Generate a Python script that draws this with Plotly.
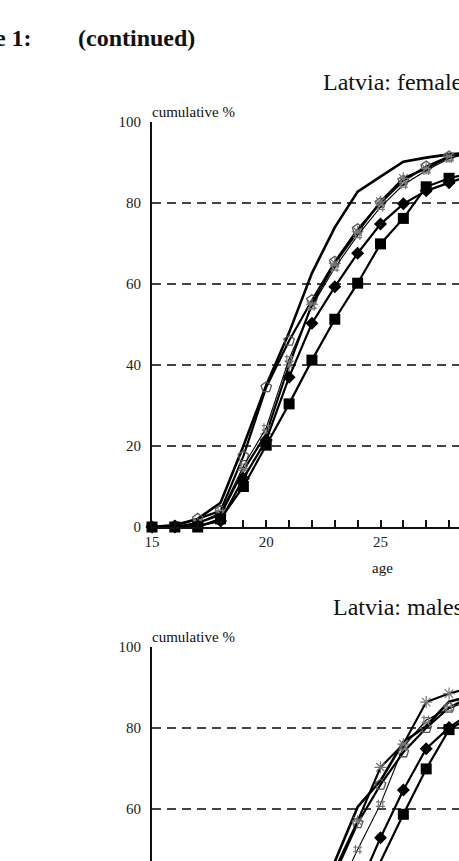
import plotly.graph_objects as go

W, H = 459, 861

ages = list(range(15, 30))

# Latvia: females (cumulative %)
fem_plain    = [0, 0.5, 2, 6, 20, 35, 48, 62.7, 74, 82.8, 86.5, 90.2, 91.2, 92, 92.5]
fem_open     = [0, 0.3, 2, 4, 17.5, 34.5, 46, 56, 65.5, 73.5, 80, 85.5, 89, 91.5, 93]
fem_asterisk = [0, 0, 1, 3, 14, 23, 40, 55, 65.1, 72.9, 80.3, 86.1, 88.5, 91.4, 92.5]
fem_hash     = [0, 0, 1, 3.5, 15, 24.5, 41.5, 54.5, 64, 72, 79, 84.5, 88, 91, 92.5]
fem_diamond  = [0, 0, 0.3, 1.5, 12, 21.5, 37, 50.3, 59.3, 67.6, 74.8, 79.8, 83, 85, 87]
fem_square   = [0, 0, 0, 2, 10, 20.2, 30.4, 41.2, 51.3, 60.2, 69.9, 76.2, 84, 86.1, 87.5]

# Latvia: males (cumulative %)
mal_plain    = [0, 0, 0.5, 1.5, 4, 9, 18, 31, 47, 60.5, 67, 76.5, 80.5, 86.5, 88]
mal_open     = [0, 0, 0.5, 1.5, 4, 8, 17, 30, 44, 56.5, 66, 74, 80, 85, 88]
mal_asterisk = [0, 0, 0.5, 1.5, 4, 8.5, 17, 30, 45, 57, 70.3, 76, 86.4, 88.5, 90]
mal_hash     = [0, 0, 0.3, 1, 3, 6, 13, 24, 38, 50, 61.2, 75.3, 82, 84.8, 87]
mal_diamond  = [0, 0, 0.2, 1, 2.5, 5, 10, 19, 30, 40, 52.9, 64.7, 74.9, 80.1, 84]
mal_square   = [0, 0, 0, 0.5, 2, 4, 8, 15, 25, 36, 47, 58.7, 69.9, 79.6, 83]

yticks = [0, 20, 40, 60, 80, 100]
xticks = [15, 20, 25, 30, 35]

FONT = "Liberation Serif, Times New Roman, serif"

styles = {
    "plain":    dict(mode="lines", line=dict(color="black", width=2.6)),
    "open":     dict(mode="lines+markers", line=dict(color="black", width=2.2),
                     marker=dict(symbol="pentagon-open", size=11, color="#555", line=dict(width=1.3))),
    "asterisk": dict(mode="lines+markers", line=dict(color="black", width=2.2),
                     marker=dict(symbol="asterisk-open", size=10, color="#777", line=dict(width=1.2))),
    "hash":     dict(mode="lines+markers", line=dict(color="black", width=1.1),
                     marker=dict(symbol="hash-open", size=9, color="#777", line=dict(width=1.2))),
    "diamond":  dict(mode="lines+markers", line=dict(color="black", width=2.2),
                     marker=dict(symbol="diamond", size=10, color="black")),
    "square":   dict(mode="lines+markers", line=dict(color="black", width=2.2),
                     marker=dict(symbol="square", size=11, color="black")),
}

fig = go.Figure()
fem = [("plain", fem_plain), ("open", fem_open), ("asterisk", fem_asterisk),
       ("hash", fem_hash), ("diamond", fem_diamond), ("square", fem_square)]
mal = [("plain", mal_plain), ("open", mal_open), ("asterisk", mal_asterisk),
       ("hash", mal_hash), ("diamond", mal_diamond), ("square", mal_square)]
for name, vals in fem:
    fig.add_trace(go.Scatter(x=ages, y=vals, xaxis="x", yaxis="y", showlegend=False,
                             cliponaxis=False, **styles[name]))
for name, vals in mal:
    fig.add_trace(go.Scatter(x=ages, y=vals, xaxis="x2", yaxis="y2", showlegend=False,
                             cliponaxis=False, **styles[name]))

def px(x):
    return x / W

def py(y):
    return 1 - y / H

x0 = px(152)
pxyr = 22.85
xend = 15 + (W - 152) / pxyr
top_dom = [py(527), py(122)]
bot_dom = [0, py(647)]
ppu = 405 / 100
bot_lo = 100 - (H - 647) / ppu

common_y = dict(
    tickvals=yticks, showgrid=True, gridcolor="#444", gridwidth=1.6, griddash="9px,6px",
    zeroline=False, showline=True, linecolor="#111", linewidth=2, ticks="",
    tickfont=dict(family=FONT, size=15, color="#222"), ticklabelstandoff=6, automargin=False,
)

fig.update_layout(
    template="none",
    width=W, height=H, margin=dict(l=0, r=0, t=0, b=0, pad=0, autoexpand=False),
    paper_bgcolor="white", plot_bgcolor="white",
    xaxis=dict(domain=[x0, 1], anchor="y", range=[15, xend], tickvals=xticks, automargin=False,
               showgrid=False, zeroline=False, showline=True, linecolor="#111", linewidth=2,
               ticks="inside", ticklen=7, tickcolor="#111", tickwidth=1.5,
               minor=dict(dtick=1, tick0=15, ticks="inside", ticklen=7, tickcolor="#111", tickwidth=1.5,
                          showgrid=False),
               tickfont=dict(family=FONT, size=15, color="#222")),
    yaxis=dict(domain=top_dom, anchor="x", range=[0, 100], **common_y),
    xaxis2=dict(domain=[x0, 1], anchor="y2", range=[15, xend], showgrid=False, zeroline=False,
                showline=False, showticklabels=False, ticks="", automargin=False),
    yaxis2=dict(domain=bot_dom, anchor="x2", range=[bot_lo, 100], **common_y),
)

def ann(text, x, y, size, xanchor="left", bold=False):
    fig.add_annotation(text=f"<b>{text}</b>" if bold else text, x=px(x), y=py(y),
                       xref="paper", yref="paper", xanchor=xanchor, yanchor="middle",
                       showarrow=False, font=dict(family=FONT, size=size, color="#111"))

ann("Figure 1:", 34, 38, 24, xanchor="right", bold=True)
ann("(continued)", 76, 38, 24, bold=True)
ann("Latvia: females", 321, 82, 24)
ann("cumulative %", 150, 112, 15)
ann("age", 382, 568, 15, xanchor="center")
ann("Latvia: males", 331, 607, 24)
ann("cumulative %", 150, 637, 15)

fig.write_html("out.html")
